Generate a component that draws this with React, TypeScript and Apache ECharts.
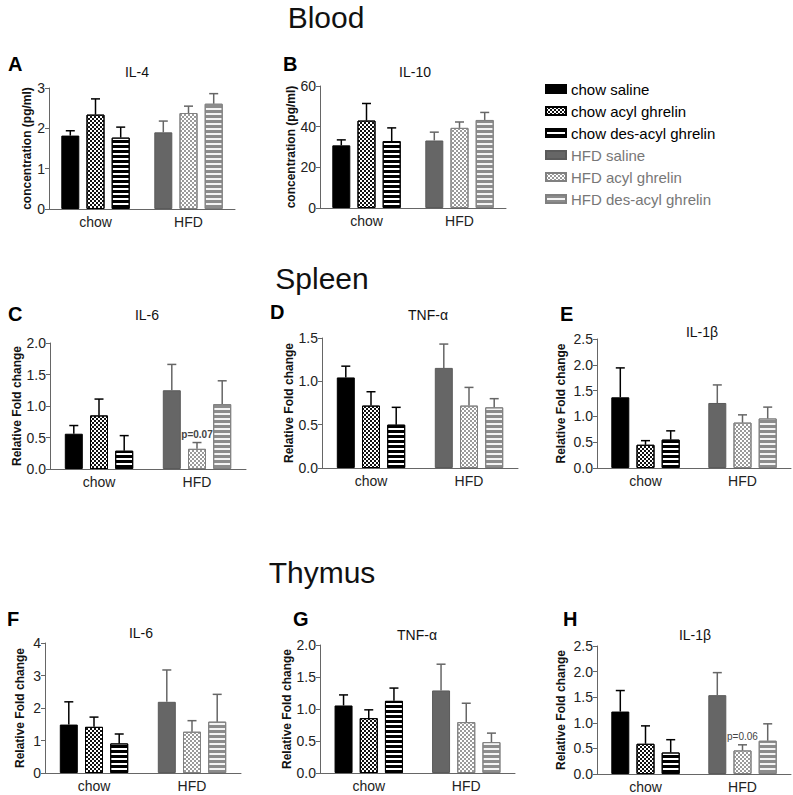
import React, { useEffect, useRef } from 'react';
import * as echarts from 'echarts';

const categories = ['chow', 'HFD'];
const groups = [
  'chow saline',
  'chow acyl ghrelin',
  'chow des-acyl ghrelin',
  'HFD saline',
  'HFD acyl ghrelin',
  'HFD des-acyl ghrelin',
];

// Means and upper error (SEM) per group, order as in `groups`
const bloodIL4 = [1.82, 2.34, 1.77, 1.9, 2.38, 2.61];
const bloodIL4Err = [0.12, 0.39, 0.26, 0.28, 0.17, 0.25];
const bloodIL10 = [30.8, 43.0, 32.9, 33.2, 39.4, 43.3];
const bloodIL10Err = [2.7, 8.4, 6.5, 4.1, 2.9, 3.7];
const spleenIL6 = [0.56, 0.85, 0.29, 1.25, 0.32, 1.03];
const spleenIL6Err = [0.13, 0.26, 0.24, 0.41, 0.1, 0.37];
const spleenTNF = [1.045, 0.72, 0.5, 1.155, 0.72, 0.7];
const spleenTNFErr = [0.13, 0.16, 0.2, 0.275, 0.21, 0.1];
const spleenIL1b = [1.37, 0.45, 0.55, 1.26, 0.88, 0.96];
const spleenIL1bErr = [0.57, 0.08, 0.17, 0.35, 0.15, 0.22];
const thymusIL6 = [1.49, 1.42, 0.91, 2.19, 1.27, 1.58];
const thymusIL6Err = [0.7, 0.3, 0.29, 0.98, 0.34, 0.84];
const thymusTNF = [1.055, 0.857, 1.127, 1.29, 0.795, 0.483];
const thymusTNFErr = [0.165, 0.13, 0.2, 0.41, 0.295, 0.14];
const thymusIL1b = [1.22, 0.59, 0.42, 1.54, 0.46, 0.65];
const thymusIL1bErr = [0.41, 0.35, 0.25, 0.44, 0.11, 0.33];

const spleenIL6Notes = ['', '', '', '', 'p=0.07', ''];
const thymusIL1bNotes = ['', '', '', '', 'p=0.06', ''];
const noNotes = ['', '', '', '', '', ''];

const panelLetters = ['A', 'B', 'C', 'D', 'E', 'F', 'G', 'H'];
const panelTitles = ['IL-4', 'IL-10', 'IL-6', 'TNF-α', 'IL-1β', 'IL-6', 'TNF-α', 'IL-1β'];
const yNames = [
  'concentration (pg/ml)',
  'concentration (pg/ml)',
  'Relative Fold change',
  'Relative Fold change',
  'Relative Fold change',
  'Relative Fold change',
  'Relative Fold change',
  'Relative Fold change',
];
const yMax = [3, 60, 2, 1.5, 2.5, 4, 2, 2.5];
const yInterval = [1, 20, 0.5, 0.5, 0.5, 1, 0.5, 0.5];
const sectionTitles = ['Blood', 'Spleen', 'Thymus'];

const panelMeans = [bloodIL4, bloodIL10, spleenIL6, spleenTNF, spleenIL1b, thymusIL6, thymusTNF, thymusIL1b];
const panelErrs = [bloodIL4Err, bloodIL10Err, spleenIL6Err, spleenTNFErr, spleenIL1bErr, thymusIL6Err, thymusTNFErr, thymusIL1bErr];
const panelNotes = [noNotes, noNotes, spleenIL6Notes, noNotes, noNotes, noNotes, noNotes, thymusIL1bNotes];

// layout (pixels)
const grids = [
  { left: 49, top: 88, width: 186, height: 121 },
  { left: 320, top: 86, width: 186, height: 122 },
  { left: 50, top: 343, width: 196, height: 126 },
  { left: 322, top: 338, width: 196, height: 130 },
  { left: 597, top: 339, width: 194, height: 129 },
  { left: 45, top: 643, width: 196, height: 130 },
  { left: 320, top: 645, width: 195, height: 128 },
  { left: 597, top: 646, width: 194, height: 128 },
];
const nameGaps = [16, 22, 21, 27, 30, 19, 24, 30];
const letterPos = [[8, 65], [283, 65], [8, 315], [270, 313], [560, 315], [7, 620], [293, 620], [563, 620]];
const titlePos = [[137, 72], [415, 72], [147, 315], [428, 315], [702, 332], [141, 633], [417, 635], [695, 635]];
const sectionPos = [[326, 17], [322, 278], [322, 572]];

const BAR_W = 18;
const SLOT = 25.2;
const CAP = 4.5;
const FONT = 'Liberation Sans, Arial, Helvetica, sans-serif';

const checker = (c: string) => ({
  symbol: 'rect',
  symbolSize: 1,
  color: c,
  dashArrayX: [[2, 2], [0, 2, 2, 0]],
  dashArrayY: [2, 0],
  rotation: 0,
});
const stripes = (c: string) => ({
  symbol: 'rect',
  symbolSize: 1,
  color: c,
  dashArrayX: [1, 0],
  dashArrayY: [3, 2],
  rotation: 0,
});

const groupStyles: any[] = [
  { color: '#000000', borderColor: '#000000', borderWidth: 1 },
  { color: '#ffffff', borderColor: '#000000', borderWidth: 1, decal: checker('#111111') },
  { color: '#ffffff', borderColor: '#000000', borderWidth: 1, decal: stripes('#000000') },
  { color: '#666666', borderColor: '#5a5a5a', borderWidth: 1 },
  { color: '#ffffff', borderColor: '#808080', borderWidth: 1, decal: checker('#9a9a9a') },
  { color: '#f4f4f4', borderColor: '#808080', borderWidth: 1, decal: stripes('#8c8c8c') },
];

export default function App() {
  const ref = useRef<HTMLDivElement>(null);
  useEffect(() => {
    if (!ref.current) return;
    const chart = echarts.init(ref.current, null, { renderer: 'svg' });

    const xAxis: any[] = [];
    const yAxis: any[] = [];
    const series: any[] = [];
    const graphic: any[] = [];

    grids.forEach((g, p) => {
      xAxis.push({
        type: 'category',
        gridIndex: p,
        data: categories,
        axisLine: { lineStyle: { color: '#666', width: 1 } },
        axisTick: { alignWithLabel: true, length: 4, lineStyle: { color: '#666' } },
        axisLabel: { fontSize: 14, color: '#222', margin: 6, fontFamily: FONT },
      });
      const decimals = yInterval[p] < 1 ? 1 : 0;
      yAxis.push({
        type: 'value',
        gridIndex: p,
        min: 0,
        max: yMax[p],
        interval: yInterval[p],
        splitLine: { show: false },
        axisLine: { show: true, lineStyle: { color: '#666', width: 1 } },
        axisTick: { show: true, length: 4, lineStyle: { color: '#666' } },
        axisLabel: {
          fontSize: 14,
          color: '#222',
          margin: 4,
          fontFamily: FONT,
          formatter: (v: number) => v.toFixed(decimals),
        },
        name: yNames[p],
        nameLocation: 'middle',
        nameGap: nameGaps[p],
        nameTextStyle: { fontSize: 12, fontWeight: 'bold', color: '#111', fontFamily: FONT },
      });

      const means = panelMeans[p];
      const errs = panelErrs[p];
      const notes = panelNotes[p];
      groups.forEach((name, gi) => {
        const cat = gi < 3 ? 0 : 1;
        series.push({
          type: 'bar',
          name,
          xAxisIndex: p,
          yAxisIndex: p,
          stack: 'p' + p + 's' + (gi % 3),
          barWidth: BAR_W,
          barGap: '40%',
          data: cat === 0 ? [means[gi], '-'] : ['-', means[gi]],
          itemStyle: groupStyles[gi],
          emphasis: { disabled: true },
        });
      });
      series.push({
        type: 'custom',
        name: 'err' + p,
        xAxisIndex: p,
        yAxisIndex: p,
        z: 5,
        data: groups.map((_, gi) => [gi < 3 ? 0 : 1, means[gi], means[gi] + errs[gi], gi % 3, gi < 3 ? 0 : 1]),
        encode: { x: 0, y: [1, 2] },
        renderItem: (params: any, api: any) => {
          const cat = api.value(0);
          const base = api.coord([cat, api.value(1)]);
          const tip = api.coord([cat, api.value(2)]);
          const x = base[0] + (api.value(3) - 1) * SLOT;
          const color = api.value(4) === 0 ? '#000' : '#666';
          const children: any[] = [
            { type: 'line', shape: { x1: x, y1: base[1], x2: x, y2: tip[1] }, style: { stroke: color, lineWidth: 1.5 } },
            { type: 'line', shape: { x1: x - CAP, y1: tip[1], x2: x + CAP, y2: tip[1] }, style: { stroke: color, lineWidth: 1.5 } },
          ];
          const note = notes[params.dataIndex];
          if (note) {
            children.push({
              type: 'text',
              style: {
                x,
                y: tip[1] - 3,
                text: note,
                align: 'center',
                verticalAlign: 'bottom',
                fontSize: 10,
                fontWeight: p === 2 ? 'bold' : 'normal',
                fill: '#444',
                fontFamily: FONT,
              },
            });
          }
          return { type: 'group', children };
        },
      });

      graphic.push({
        type: 'text',
        left: letterPos[p][0],
        top: letterPos[p][1] - 11,
        style: { text: panelLetters[p], fontSize: 20, fontWeight: 'bold', fill: '#000', fontFamily: FONT },
      });
      graphic.push({
        type: 'text',
        x: titlePos[p][0],
        y: titlePos[p][1],
        style: {
          text: panelTitles[p],
          fontSize: 14,
          fill: '#111',
          align: 'center',
          verticalAlign: 'middle',
          fontFamily: FONT,
        },
      });
    });

    sectionTitles.forEach((t, i) => {
      graphic.push({
        type: 'text',
        x: sectionPos[i][0],
        y: sectionPos[i][1],
        style: { text: t, fontSize: 30, fill: '#111', align: 'center', verticalAlign: 'middle', fontFamily: FONT },
      });
    });

    chart.setOption({
      animation: false,
      textStyle: { fontFamily: FONT },
      grid: grids.map((g) => ({ ...g, containLabel: false })),
      xAxis,
      yAxis,
      series,
      graphic,
      legend: {
        orient: 'vertical',
        left: 540,
        top: 76,
        icon: 'rect',
        itemWidth: 20,
        itemHeight: 8,
        itemGap: 6,
        selectedMode: false,
        textStyle: { fontSize: 15, lineHeight: 16, fontFamily: FONT },
        data: groups.map((g, i) => ({ name: g, textStyle: { color: i < 3 ? '#000' : '#777' } })),
      },
    });

    return () => chart.dispose();
  }, []);

  return <div ref={ref} style={{ position: 'absolute', left: 0, top: 0, width: 793, height: 795, background: '#fff' }} />;
}
